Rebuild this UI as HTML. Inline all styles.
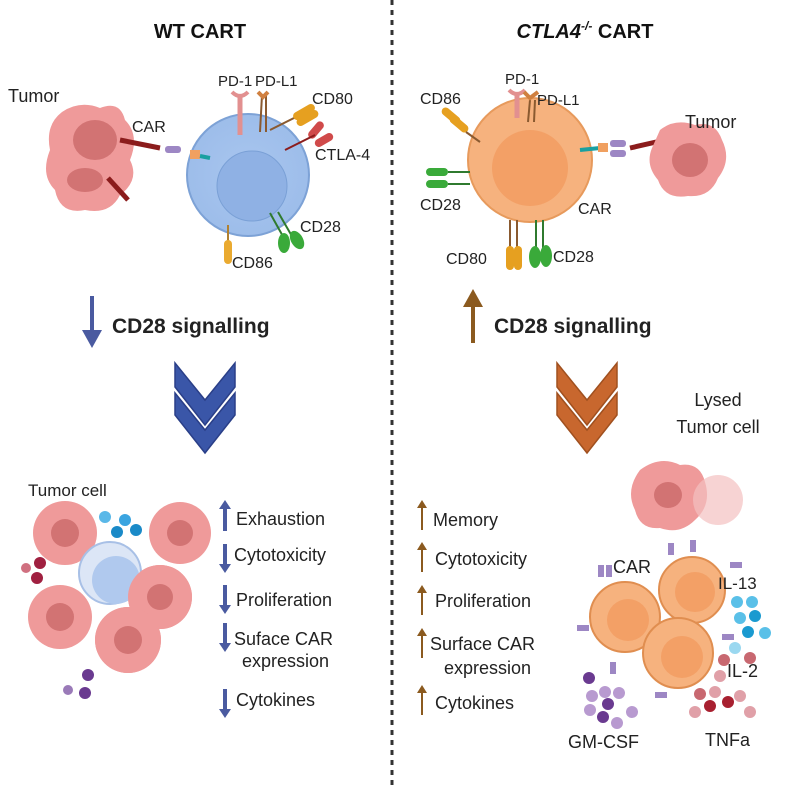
<!DOCTYPE html>
<html><head><meta charset="utf-8"><style>
body{margin:0;background:#fff;}
svg{display:block;font-family:"Liberation Sans",sans-serif;}
</style></head><body>
<svg width="789" height="785" viewBox="0 0 789 785" xmlns="http://www.w3.org/2000/svg">
<defs>
<radialGradient id="bl" cx="0.5" cy="0.5" r="0.5"><stop offset="0" stop-color="#a9c6ef"/><stop offset="1" stop-color="#9dbdea"/></radialGradient>
</defs>
<line x1="392" y1="0" x2="392" y2="785" stroke="#333" stroke-width="3" stroke-dasharray="5,5"/>
<text x="200" y="38" font-size="20" font-weight="bold" text-anchor="middle" fill="#111">WT CART</text>
<text x="585" y="38" font-size="20" font-weight="bold" text-anchor="middle" fill="#111"><tspan font-style="italic">CTLA4</tspan><tspan font-size="12" dy="-8" font-style="italic">-/-</tspan><tspan dy="8"> CART</tspan></text>

<!-- LEFT TOP -->
<text x="8" y="102" font-size="18" fill="#222">Tumor</text>
<path d="M62,112 Q80,100 100,108 Q120,100 125,120 Q140,135 130,160 Q140,180 120,195 Q110,215 85,210 Q60,215 55,190 Q40,175 50,150 Q45,125 62,112Z" fill="#ef9a9a"/>
<ellipse cx="95" cy="140" rx="22" ry="20" fill="#d27373"/>
<ellipse cx="85" cy="180" rx="18" ry="12" fill="#d27373"/>
<line x1="120" y1="140" x2="160" y2="148" stroke="#8b1c1c" stroke-width="5"/>
<line x1="108" y1="178" x2="128" y2="200" stroke="#8b1c1c" stroke-width="5"/>
<circle cx="248" cy="175" r="61" fill="url(#bl)" stroke="#7da2d6" stroke-width="2"/>
<circle cx="252" cy="186" r="35" fill="#8fb1e4" stroke="#7aa0d6" stroke-width="1"/>
<rect x="165" y="146" width="16" height="7" rx="3" fill="#9d87c4"/><rect x="190" y="150" width="10" height="9" fill="#f0a060"/><line x1="200" y1="156" x2="210" y2="158" stroke="#1aa0a0" stroke-width="4"/>
<text x="132" y="132" font-size="16" fill="#222">CAR</text>
<line x1="240" y1="95" x2="240" y2="135" stroke="#e29090" stroke-width="5"/><path d="M232,92 Q240,100 248,92" stroke="#e29090" stroke-width="4" fill="none"/>
<text x="218" y="86" font-size="15" fill="#222">PD-1</text>
<text x="255" y="86" font-size="15" fill="#222">PD-L1</text>
<line x1="262" y1="95" x2="260" y2="132" stroke="#8a5a30" stroke-width="2"/><line x1="266" y1="95" x2="266" y2="132" stroke="#8a5a30" stroke-width="2"/>
<path d="M258,92 l5,5 l5,-5" stroke="#d08040" stroke-width="4" fill="none"/>
<text x="312" y="104" font-size="16" fill="#222">CD80</text>
<line x1="270" y1="130" x2="300" y2="115" stroke="#8a5a30" stroke-width="2"/>
<rect x="292" y="108" width="24" height="8" rx="4" fill="#e6a020" transform="rotate(-30 304 112)"/>
<rect x="296" y="116" width="24" height="8" rx="4" fill="#e6a020" transform="rotate(-30 304 120)"/>
<rect x="312" y="120" width="8" height="20" rx="4" fill="#d04a4a" transform="rotate(40 316 130)"/>
<rect x="320" y="130" width="8" height="20" rx="4" fill="#d04a4a" transform="rotate(60 324 140)"/>
<line x1="285" y1="150" x2="315" y2="135" stroke="#8b1c1c" stroke-width="2"/>
<text x="315" y="160" font-size="16" fill="#222">CTLA-4</text>
<line x1="270" y1="213" x2="285" y2="240" stroke="#2f7a2f" stroke-width="2"/><line x1="278" y1="212" x2="293" y2="238" stroke="#2f7a2f" stroke-width="2"/>
<ellipse cx="284" cy="243" rx="6" ry="10" fill="#3aaa3a"/><ellipse cx="297" cy="240" rx="6" ry="10" fill="#3aaa3a" transform="rotate(-30 297 240)"/>
<text x="300" y="232" font-size="16" fill="#222">CD28</text>
<line x1="228" y1="225" x2="228" y2="245" stroke="#b08030" stroke-width="2"/><rect x="224" y="240" width="8" height="24" rx="4" fill="#eaaa30"/>
<text x="232" y="268" font-size="16" fill="#222">CD86</text>

<!-- RIGHT TOP -->
<circle cx="530" cy="160" r="62" fill="#f6b27e" stroke="#e79a5c" stroke-width="2"/>
<circle cx="530" cy="168" r="38" fill="#f3a066"/>
<text x="505" y="84" font-size="15" fill="#222">PD-1</text>
<line x1="517" y1="92" x2="517" y2="118" stroke="#e29090" stroke-width="5"/><path d="M509,90 Q517,98 525,90" stroke="#e29090" stroke-width="4" fill="none"/>
<text x="537" y="105" font-size="15" fill="#222">PD-L1</text>
<line x1="530" y1="100" x2="528" y2="122" stroke="#8a5a30" stroke-width="2"/><line x1="535" y1="100" x2="534" y2="122" stroke="#8a5a30" stroke-width="2"/>
<path d="M524,92 l6,6 l8,-6" stroke="#d08040" stroke-width="4" fill="none"/>
<text x="420" y="104" font-size="16" fill="#222">CD86</text>
<rect x="440" y="112" width="22" height="8" rx="4" fill="#e6a020" transform="rotate(40 451 116)"/>
<rect x="448" y="120" width="22" height="8" rx="4" fill="#e6a020" transform="rotate(40 459 124)"/>
<line x1="466" y1="132" x2="480" y2="142" stroke="#8a5a30" stroke-width="2"/>
<rect x="426" y="168" width="22" height="8" rx="4" fill="#3aaa3a"/><rect x="426" y="180" width="22" height="8" rx="4" fill="#3aaa3a"/>
<line x1="448" y1="172" x2="470" y2="172" stroke="#2f7a2f" stroke-width="2"/><line x1="448" y1="184" x2="470" y2="184" stroke="#2f7a2f" stroke-width="2"/>
<text x="420" y="210" font-size="16" fill="#222">CD28</text>
<line x1="580" y1="150" x2="600" y2="148" stroke="#1aa0a0" stroke-width="4"/>
<rect x="598" y="143" width="10" height="9" fill="#f0a060"/><rect x="610" y="140" width="16" height="7" rx="3" fill="#9d87c4"/><rect x="610" y="150" width="16" height="7" rx="3" fill="#9d87c4"/>
<line x1="630" y1="148" x2="665" y2="140" stroke="#8b1c1c" stroke-width="5"/>
<text x="578" y="214" font-size="16" fill="#222">CAR</text>
<path d="M660,130 Q675,118 695,125 Q715,120 722,140 Q732,160 718,178 Q710,198 688,196 Q665,200 658,180 Q645,165 652,148Z" fill="#ef9a9a"/>
<ellipse cx="690" cy="160" rx="18" ry="17" fill="#d27373"/>
<text x="685" y="128" font-size="18" fill="#222">Tumor</text>
<line x1="510" y1="220" x2="510" y2="248" stroke="#8a5a30" stroke-width="2"/><line x1="517" y1="220" x2="517" y2="248" stroke="#8a5a30" stroke-width="2"/>
<rect x="506" y="246" width="8" height="24" rx="4" fill="#e6a020"/><rect x="514" y="246" width="8" height="24" rx="4" fill="#e6a020"/>
<line x1="536" y1="220" x2="536" y2="248" stroke="#2f7a2f" stroke-width="2"/><line x1="543" y1="220" x2="543" y2="248" stroke="#2f7a2f" stroke-width="2"/>
<ellipse cx="535" cy="257" rx="6" ry="11" fill="#3aaa3a"/><ellipse cx="546" cy="256" rx="6" ry="11" fill="#3aaa3a"/>
<text x="446" y="264" font-size="16" fill="#222">CD80</text>
<text x="553" y="262" font-size="16" fill="#222">CD28</text>

<!-- signalling -->
<line x1="92" y1="296" x2="92" y2="335" stroke="#4a5aa0" stroke-width="4"/><path d="M82,330 L92,348 L102,330Z" fill="#4a5aa0"/>
<text x="112" y="333" font-size="21" font-weight="bold" fill="#222">CD28 signalling</text>
<line x1="473" y1="305" x2="473" y2="343" stroke="#8b5a1f" stroke-width="4"/><path d="M463,307 L473,289 L483,307Z" fill="#8b5a1f"/>
<text x="494" y="333" font-size="21" font-weight="bold" fill="#222">CD28 signalling</text>
<!-- chevrons -->
<path d="M175,363 L205,400 L235,363 L235,387 L205,425 L175,387Z" fill="#3a56a8" stroke="#2a3f88" stroke-width="1.5"/>
<path d="M175,393 L205,430 L235,393 L235,415 L205,453 L175,415Z" fill="#3a56a8" stroke="#2a3f88" stroke-width="1.5"/>
<path d="M557,363 L587,400 L617,363 L617,387 L587,425 L557,387Z" fill="#c8672e" stroke="#a0501f" stroke-width="1.5"/>
<path d="M557,393 L587,430 L617,393 L617,415 L587,453 L557,415Z" fill="#c8672e" stroke="#a0501f" stroke-width="1.5"/>

<!-- bottom left -->
<text x="28" y="496" font-size="17" fill="#222">Tumor cell</text>
<g fill="#ef9a9a">
<circle cx="65" cy="533" r="32"/><circle cx="180" cy="533" r="31"/><circle cx="60" cy="617" r="32"/><circle cx="160" cy="597" r="32"/><circle cx="128" cy="640" r="33"/>
</g>
<circle cx="110" cy="573" r="31" fill="#dce6f6" stroke="#a8c0e6" stroke-width="2"/><circle cx="116" cy="580" r="24" fill="#b0c9ee"/>
<circle cx="160" cy="597" r="32" fill="#ef9a9a"/><circle cx="128" cy="640" r="33" fill="#ef9a9a"/>
<g fill="#d27373"><circle cx="65" cy="533" r="14"/><circle cx="180" cy="533" r="13"/><circle cx="60" cy="617" r="14"/><circle cx="160" cy="597" r="13"/><circle cx="128" cy="640" r="14"/></g>
<circle cx="125" cy="520" r="6" fill="#3aa4e0"/><circle cx="117" cy="532" r="6" fill="#1a8ac8"/><circle cx="136" cy="530" r="6" fill="#1a8ac8"/><circle cx="105" cy="517" r="6" fill="#5ab8e8"/>
<circle cx="26" cy="568" r="5" fill="#d07080"/><circle cx="40" cy="563" r="6" fill="#a02040"/><circle cx="37" cy="578" r="6" fill="#a02040"/>
<circle cx="68" cy="690" r="5" fill="#9a7ab8"/><circle cx="85" cy="693" r="6" fill="#6a3a90"/><circle cx="88" cy="675" r="6" fill="#6a3a90"/>
<g fill="#4a5aa0">
<path d="M225,500 l-6,9 h4 v22 h4 v-22 h4z"/>
<path d="M225,573 l-6,-9 h4 v-20 h4 v20 h4z"/>
<path d="M225,614 l-6,-9 h4 v-20 h4 v20 h4z"/>
<path d="M225,652 l-6,-9 h4 v-20 h4 v20 h4z"/>
<path d="M225,718 l-6,-9 h4 v-20 h4 v20 h4z"/>
</g>
<g font-size="18" fill="#222">
<text x="236" y="525">Exhaustion</text>
<text x="234" y="561">Cytotoxicity</text>
<text x="236" y="606">Proliferation</text>
<text x="234" y="645">Suface CAR</text>
<text x="242" y="667">expression</text>
<text x="236" y="706">Cytokines</text>
</g>
<!-- bottom right list -->
<g fill="#8b5a1f">
<path d="M422,500 l-5,8 h4 v22 h2 v-22 h4z"/>
<path d="M422,542 l-5,8 h4 v22 h2 v-22 h4z"/>
<path d="M422,585 l-5,8 h4 v22 h2 v-22 h4z"/>
<path d="M422,628 l-5,8 h4 v22 h2 v-22 h4z"/>
<path d="M422,685 l-5,8 h4 v22 h2 v-22 h4z"/>
</g>
<g font-size="18" fill="#222">
<text x="433" y="526">Memory</text>
<text x="435" y="565">Cytotoxicity</text>
<text x="435" y="607">Proliferation</text>
<text x="430" y="650">Surface CAR</text>
<text x="444" y="674">expression</text>
<text x="435" y="709">Cytokines</text>
</g>
<text x="718" y="406" font-size="18" fill="#222" text-anchor="middle">Lysed</text>
<text x="718" y="433" font-size="18" fill="#222" text-anchor="middle">Tumor cell</text>
<path d="M640,470 Q660,455 680,465 Q700,462 705,482 Q712,505 695,520 Q680,535 660,528 Q640,530 635,510 Q625,490 640,470Z" fill="#ef9a9a"/>
<ellipse cx="668" cy="495" rx="14" ry="13" fill="#d27373"/>
<circle cx="718" cy="500" r="25" fill="#f4c0c0" opacity="0.7"/>
<g fill="#f6b27e" stroke="#e08e50" stroke-width="2">
<circle cx="625" cy="617" r="35"/><circle cx="692" cy="590" r="33"/><circle cx="678" cy="653" r="35"/>
</g>
<g fill="#f3a066"><circle cx="628" cy="620" r="21"/><circle cx="695" cy="592" r="20"/><circle cx="682" cy="657" r="21"/></g>
<g fill="#9d87c4">
<rect x="598" y="565" width="6" height="12"/><rect x="606" y="565" width="6" height="12"/>
<rect x="668" y="543" width="6" height="12"/><rect x="690" y="540" width="6" height="12"/>
<rect x="730" y="562" width="12" height="6"/><rect x="577" y="625" width="12" height="6"/>
<rect x="610" y="662" width="6" height="12"/><rect x="722" y="634" width="12" height="6"/><rect x="655" y="692" width="12" height="6"/>
</g>
<text x="613" y="573" font-size="18" fill="#222">CAR</text>
<text x="718" y="589" font-size="17" fill="#222">IL-13</text>
<g fill="#5ac0e8"><circle cx="737" cy="602" r="6"/><circle cx="752" cy="602" r="6"/><circle cx="740" cy="618" r="6"/><circle cx="755" cy="616" r="6" fill="#1a9ad0"/><circle cx="748" cy="632" r="6" fill="#1a9ad0"/><circle cx="765" cy="633" r="6"/><circle cx="735" cy="648" r="6" fill="#9ad8f0"/></g>
<text x="727" y="677" font-size="18" fill="#222">IL-2</text>
<g fill="#c86870"><circle cx="724" cy="660" r="6"/><circle cx="750" cy="658" r="6"/><circle cx="720" cy="676" r="6" fill="#e0a0a8"/><circle cx="700" cy="694" r="6"/><circle cx="715" cy="692" r="6" fill="#e0a0a8"/><circle cx="728" cy="702" r="6" fill="#a82030"/><circle cx="710" cy="706" r="6" fill="#a82030"/><circle cx="695" cy="712" r="6" fill="#e0a0a8"/><circle cx="750" cy="712" r="6" fill="#e0a0a8"/><circle cx="740" cy="696" r="6" fill="#e0a0a8"/></g>
<text x="705" y="746" font-size="18" fill="#222">TNFa</text>
<g fill="#b89ad0"><circle cx="589" cy="678" r="6" fill="#6a3a90"/><circle cx="592" cy="696" r="6"/><circle cx="605" cy="692" r="6"/><circle cx="619" cy="693" r="6"/><circle cx="608" cy="704" r="6" fill="#6a3a90"/><circle cx="603" cy="717" r="6" fill="#6a3a90"/><circle cx="617" cy="723" r="6"/><circle cx="632" cy="712" r="6"/><circle cx="590" cy="710" r="6"/></g>
<text x="568" y="748" font-size="18" fill="#222">GM-CSF</text>
</svg>
</body></html>
